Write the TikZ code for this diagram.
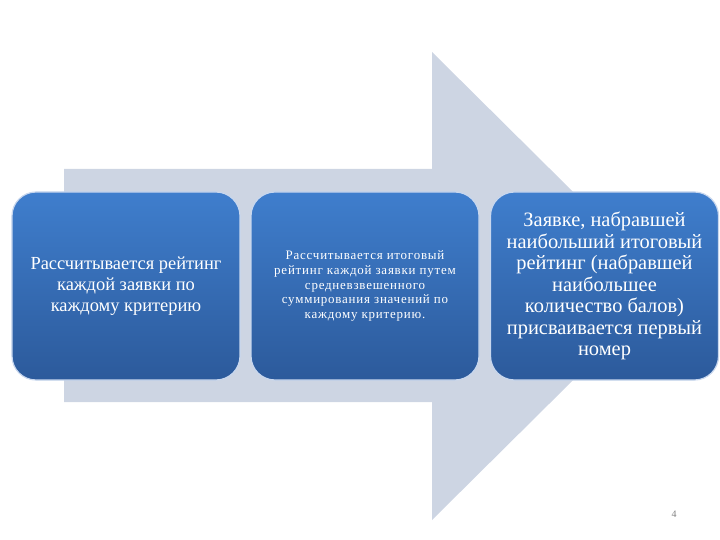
\documentclass[tikz,border=0pt]{standalone}
\usepackage{fontspec}
\setmainfont{Liberation Serif}
\usepackage{tikz}
\definecolor{arrowgray}{RGB}{205,213,227}
\definecolor{boxtop}{RGB}{63,126,205}
\definecolor{boxbottom}{RGB}{44,90,155}
\definecolor{boxrim}{RGB}{200,215,238}
\def\bigarrow{(64,169) -- (432,169) -- (432,52) -- (668,286) -- (432,520) -- (432,402) -- (64,402) -- cycle}
\tikzset{
    stepbox/.style={rounded corners=24bp, top color=boxtop, bottom color=boxbottom,
        draw=boxrim, line width=1.2bp, minimum width=228bp, minimum height=188bp,
        text=white, align=center, inner sep=4bp},
}

\begin{document}
\begin{tikzpicture}[x=1bp,y=-1bp]
    \useasboundingbox (0,0) rectangle (720,540);
    \fill[arrowgray] \bigarrow;
    \node[stepbox, font=\fontsize{18.5}{21}\selectfont] (rating) at (126,286) {Рассчитывается рейтинг\\каждой заявки по\\каждому критерию};
    \node[stepbox, font=\fontsize{13}{14.8}\selectfont\addfontfeatures{LetterSpace=6}] (total) at (365,286) {Рассчитывается  итоговый\\рейтинг каждой заявки путем\\средневзвешенного\\суммирования значений по\\каждому критерию.};
    \node[stepbox, font=\fontsize{20.5}{21.6}\selectfont] (first) at (604.5,286) {Заявке, набравшей\\наибольший итоговый\\рейтинг (набравшей\\наибольшее\\количество балов)\\присваивается первый\\номер};
    \node[text=gray, font=\fontsize{10}{12}\selectfont] (page) at (674,514) {4};
\end{tikzpicture}
\end{document}
